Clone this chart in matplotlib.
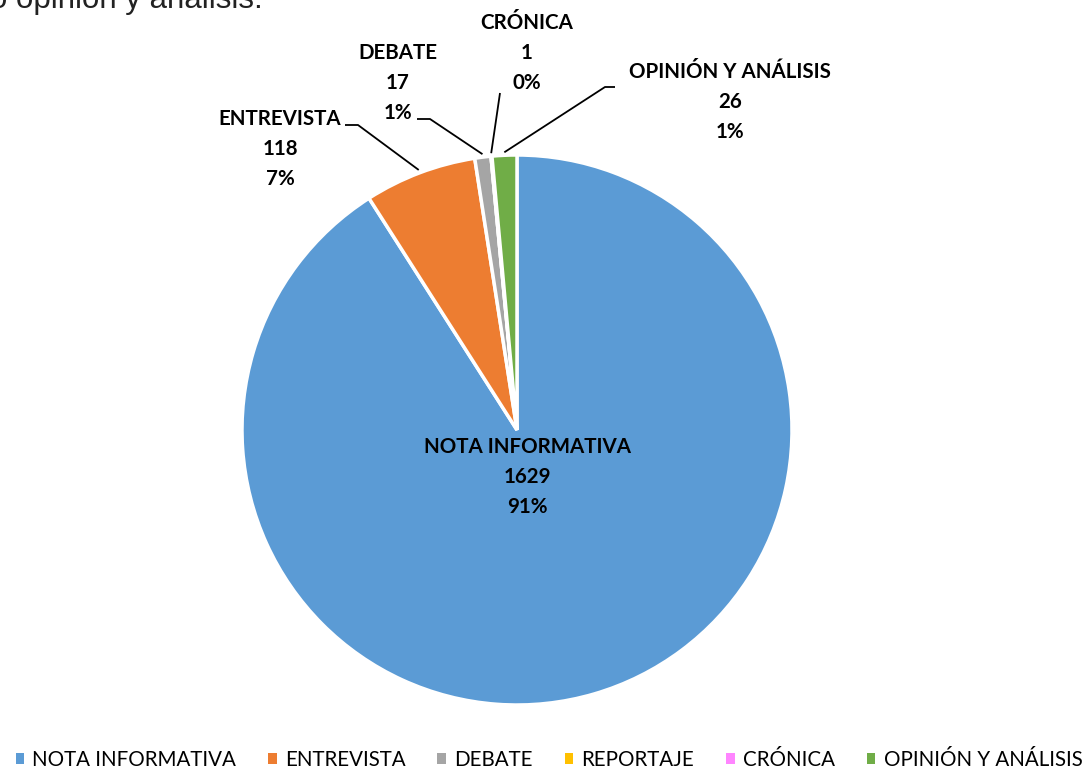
import numpy as np
import matplotlib.pyplot as plt
from matplotlib.patches import Patch

categories = ["NOTA INFORMATIVA", "ENTREVISTA", "DEBATE", "REPORTAJE", "CRÓNICA", "OPINIÓN Y ANÁLISIS"]
values = [1629, 118, 17, 0, 1, 26]
colors = ["#5B9BD5", "#ED7D31", "#A5A5A5", "#FFC000", "#FF85FF", "#70AD47"]

W, H = 1084, 770
CX, CY, R = 517, 430, 275   # pie centre / radius in pixels (y from top)


def px(x, y):
    # pixel (from top-left) -> data coords
    return x, H - y


def main():
    fig = plt.figure(figsize=(W / 100, H / 100), dpi=100)
    ax = fig.add_axes([0, 0, 1, 1])
    ax.set_axis_off()

    wedges, _ = ax.pie(
        values,
        colors=colors,
        startangle=90,
        counterclock=False,
        center=px(CX, CY),
        radius=R,
        wedgeprops=dict(edgecolor="white", linewidth=2.5),
    )
    ax.set_xlim(0, W)
    ax.set_ylim(0, H)
    ax.set_aspect("equal")

    total = sum(values)
    lbl = dict(fontsize=14.8, fontweight="bold", family=["Lato", "DejaVu Sans"],
               ha="center", va="center", linespacing=1.6)

    def label_text(i):
        return f"{categories[i]}\n{values[i]}\n{values[i] / total * 100:.0f}%"

    # big slice: label inside
    ax.text(*px(527, 477), label_text(0), **lbl)

    # outside labels: text centre, leader polyline (pixel coords)
    outside = {
        1: ((280, 149), [(345, 125), (358, 125)]),
        2: ((398, 83), [(417, 119), (430, 119)]),
        4: ((527, 53), [(500, 93)]),
        5: ((730, 102), [(615, 87), (605, 87)]),
    }
    for i, (pos, pts) in outside.items():
        ax.text(*px(*pos), label_text(i), **lbl)
        w = wedges[i]
        mid = np.deg2rad((w.theta1 + w.theta2) / 2)
        end = (CX + (R + 3) * np.cos(mid), CY - (R + 3) * np.sin(mid))
        line = pts + [end]
        xs, ys = zip(*[px(*p) for p in line])
        ax.plot(xs, ys, color="black", lw=1.3, solid_capstyle="butt")

    # clipped caption from the page above
    ax.text(*px(-10, 8), "o opinión y análisis.", fontsize=22.5, color="#222222",
            family=["Liberation Sans", "DejaVu Sans"], ha="left", va="baseline")

    handles = [Patch(facecolor=c, edgecolor="none") for c in colors]
    fig.legend(handles, categories, loc="center", bbox_to_anchor=(549 / W, 1 - 760 / H),
               ncol=6, frameon=False, handlelength=0.42, handleheight=0.42,
               handletextpad=0.4, columnspacing=1.55,
               prop=dict(family=["Lato", "DejaVu Sans"], size=14.8))

    fig.savefig("out.png", dpi=100)
    plt.close(fig)


if __name__ == "__main__":
    main()
